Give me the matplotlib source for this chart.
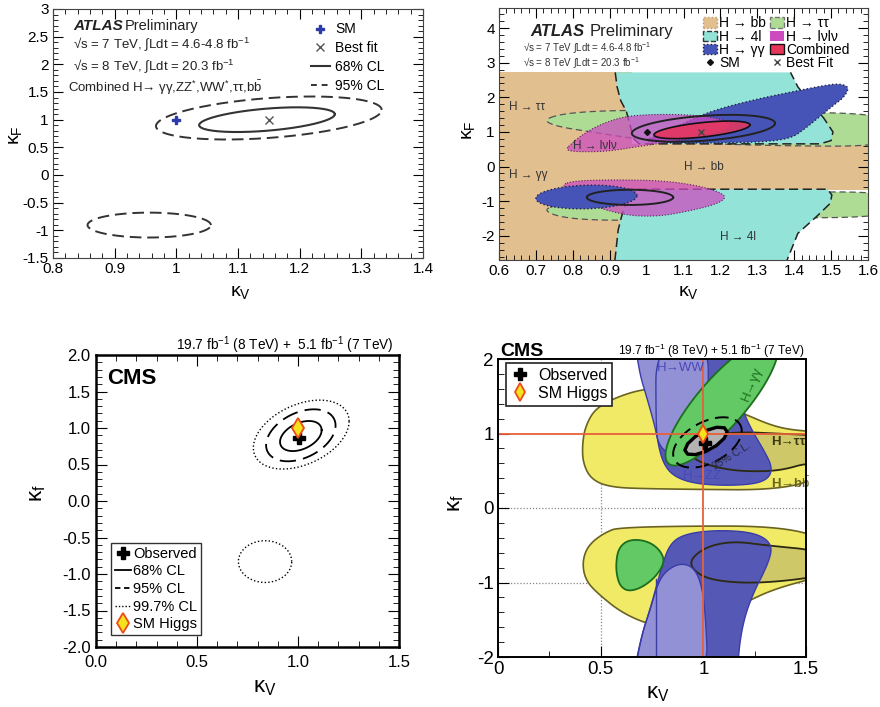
import numpy as np
import matplotlib
matplotlib.use("Agg")
import matplotlib.pyplot as plt
from matplotlib.patches import Polygon, Patch
from matplotlib.lines import Line2D
from matplotlib.ticker import MultipleLocator, FuncFormatter

plt.rcParams.update({
    'font.family': ['Liberation Sans', 'DejaVu Sans'],
    'mathtext.fontset': 'custom',
    'mathtext.rm': 'Liberation Sans',
    'mathtext.it': 'Liberation Sans:italic',
    'mathtext.bf': 'Liberation Sans:bold',
    'axes.unicode_minus': False,
})

# ---------------- DATA ----------------
# contour ellipses: (centre x, centre y, half-width, half-thickness, slope)
# Panel 1: ATLAS combined
ATLAS1_68 = (1.147, 1.0, 0.11, 0.20, 0.9)
ATLAS1_95_UP = (1.15, 1.03, 0.183, 0.36, 0.8)
ATLAS1_95_DN = (0.956, -0.905, 0.10, 0.225, 0.0)
ATLAS1_SM = (1.0, 1.0)
ATLAS1_BEST = (1.15, 1.0)

# Panel 2: ATLAS per channel
ATLAS2_BB = [(0.5, -3.0), (0.95, -3.0), (0.95, -0.67), (1.7, -0.67), (1.7, 0.655),
             (0.96, 0.655), (0.96, 2.72), (0.5, 2.72)]
ATLAS2_TT_UP = [(0.72, 1.33), (0.76, 1.5), (0.85, 1.6), (1.0, 1.63), (1.3, 1.6), (1.7, 1.5),
                (1.7, 0.58), (1.3, 0.6), (1.0, 0.75), (0.85, 1.0), (0.76, 1.15)]
ATLAS2_TT_DN = [(0.72, -1.25), (0.76, -1.1), (0.85, -1.02), (1.0, -0.9), (1.3, -0.75), (1.7, -0.72),
                (1.7, -1.45), (1.3, -1.5), (1.0, -1.55), (0.85, -1.55), (0.76, -1.45)]
ATLAS2_4L_UP = [(0.915, 2.72), (0.92, 2.3), (0.93, 1.9), (0.945, 1.6), (0.955, 1.2), (0.965, 0.8),
                (0.98, 0.655), (1.47, 0.655), (1.5, 0.75), (1.505, 1.0), (1.48, 1.4), (1.44, 1.9),
                (1.41, 2.3), (1.39, 2.72)]
ATLAS2_4L_DN = [(0.914, -2.72), (0.923, -1.83), (0.932, -1.45), (0.946, -0.96), (0.95, -0.655),
                (1.49, -0.655), (1.502, -0.82), (1.498, -1.06), (1.46, -1.45), (1.41, -1.93),
                (1.38, -2.72)]
ATLAS2_GG_UP = [(0.99, 0.74), (1.03, 0.9), (1.08, 1.15), (1.14, 1.45), (1.2, 1.68), (1.3, 1.95),
                (1.4, 2.17), (1.47, 2.32), (1.52, 2.4), (1.55, 2.3), (1.535, 2.0), (1.51, 1.8),
                (1.47, 1.45), (1.43, 1.1), (1.39, 0.8), (1.3, 0.7), (1.15, 0.68), (1.04, 0.68)]
ATLAS2_GG_DN = (0.837, -0.88, 0.137, 0.34, 0.3)
ATLAS2_WW_UP = [(0.778, 0.47), (0.80, 0.7), (0.83, 0.95), (0.875, 1.22), (0.936, 1.44), (1.0, 1.5),
                (1.07, 1.51), (1.15, 1.47), (1.21, 1.35), (1.235, 1.18), (1.2, 1.0), (1.12, 0.8),
                (1.0, 0.62), (0.9, 0.44), (0.82, 0.42)]
ATLAS2_WW_DN = [(0.77, -0.53), (0.8, -0.42), (0.88, -0.385), (1.0, -0.39), (1.08, -0.45),
                (1.16, -0.6), (1.21, -0.8), (1.212, -0.95), (1.18, -1.12), (1.1, -1.32),
                (1.03, -1.44), (0.95, -1.42), (0.87, -1.2), (0.82, -0.95), (0.79, -0.7)]
ATLAS2_COMB68 = (1.15, 1.06, 0.13, 0.21, 1.1)
ATLAS2_COMB95_UP = (1.154, 1.105, 0.194, 0.36, 0.75)
ATLAS2_COMB95_DN = (0.955, -0.89, 0.117, 0.22, 0.0)
ATLAS2_SM = (1.0, 1.0)
ATLAS2_BEST = (1.147, 1.0)

# Panel 3: CMS combined
CMS1_68 = (1.014, 0.89, 0.103, 0.19, 0.78)
CMS1_95 = (1.014, 0.90, 0.172, 0.33, 0.78)
CMS1_997_UP = (1.016, 0.91, 0.237, 0.435, 0.77)
CMS1_997_DN = (0.837, -0.83, 0.132, 0.286, 0.0)
CMS1_OBS = (1.007, 0.866)
CMS1_SM = (1.0, 1.0)

# Panel 4: CMS per channel
CMS2_BB_UP = [(1.6, 0.237), (0.69, 0.255), (0.528, 0.29), (0.45, 0.4), (0.415, 0.6), (0.41, 0.83),
              (0.425, 1.1), (0.48, 1.36), (0.626, 1.54), (0.75, 1.61), (0.837, 1.62), (1.0, 1.5),
              (1.21, 1.25), (1.34, 1.1), (1.45, 1.04), (1.6, 1.02)]
CMS2_BB_DN = [(1.6, -0.24), (0.6, -0.245), (0.513, -0.34), (0.44, -0.5), (0.412, -0.7),
              (0.42, -0.92), (0.464, -1.10), (0.627, -1.46), (0.838, -1.64), (1.0, -1.55),
              (1.195, -1.28), (1.35, -1.08), (1.6, -0.9)]
CMS2_TT_UP = [(0.94, 0.73), (0.98, 0.9), (1.05, 0.99), (1.2, 1.02), (1.35, 1.0), (1.6, 0.97),
              (1.6, 0.58), (1.5, 0.6), (1.4, 0.52), (1.3, 0.49), (1.15, 0.5), (1.03, 0.57),
              (0.96, 0.65)]
CMS2_TT_DN = [(0.932, -0.74), (0.97, -0.6), (1.05, -0.49), (1.163, -0.45), (1.3, -0.5),
              (1.6, -0.58), (1.6, -0.9), (1.4, -0.98), (1.21, -1.01), (1.05, -0.97),
              (0.97, -0.88)]
CMS2_ZZ_UP = [(0.769, 2.3), (0.769, 1.1), (0.78, 0.85), (0.805, 0.6), (0.853, 0.43), (0.95, 0.33),
              (1.1, 0.3), (1.25, 0.32), (1.32, 0.4), (1.335, 0.55), (1.3, 0.75), (1.235, 1.05),
              (1.19, 1.32), (1.17, 1.7), (1.162, 2.3)]
CMS2_ZZ_DN = [(0.655, -2.3), (0.70, -1.7), (0.74, -1.37), (0.797, -0.79), (0.838, -0.47),
              (0.919, -0.34), (1.08, -0.295), (1.25, -0.33), (1.333, -0.47), (1.325, -0.70),
              (1.227, -1.23), (1.18, -1.7), (1.163, -2.3)]
CMS2_WW_UP = [(0.663, 2.3), (0.69, 1.8), (0.723, 1.5), (0.764, 1.1), (0.78, 0.87), (0.82, 0.74),
              (0.886, 0.69), (0.95, 0.72), (1.0, 0.85), (1.02, 1.1), (1.024, 1.4), (1.024, 2.3)]
CMS2_WW_DN = [(0.659, -2.3), (0.70, -1.7), (0.74, -1.37), (0.78, -1.0), (0.82, -0.84),
              (0.886, -0.74), (0.951, -0.79), (0.99, -1.01), (1.01, -1.4), (1.024, -2.3)]
CMS2_GG_UP = (1.09, 1.42, 0.85, 0.15, 0.27)   # vertical ellipse: cx, cy, half-length, half-width, dx/dy
CMS2_GG_DN = [(0.575, -0.74), (0.585, -0.56), (0.62, -0.45), (0.675, -0.42), (0.74, -0.46),
              (0.79, -0.57), (0.813, -0.72), (0.77, -0.92), (0.70, -1.07), (0.635, -1.12),
              (0.595, -1.05), (0.578, -0.9)]
CMS2_68 = (1.013, 0.90, 0.103, 0.14, 1.2)
CMS2_95 = (1.02, 0.88, 0.167, 0.30, 0.93)
CMS2_OBS = (1.008, 0.87)
CMS2_SM = (1.0, 1.0)


# ---------------- helpers ----------------
def ell(p, n=240):
    cx, cy, a, b, s = p
    t = np.linspace(0, 2 * np.pi, n)
    return cx + a * np.cos(t), cy + s * a * np.cos(t) + b * np.sin(t)


def vell(p, n=240):
    cx, cy, a, b, s = p
    t = np.linspace(0, 2 * np.pi, n)
    return cx + s * a * np.cos(t) + b * np.sin(t), cy + a * np.cos(t)


def smooth(pts, it=4):
    P = np.asarray(pts, float)
    for _ in range(it):
        Q = np.roll(P, -1, axis=0)
        A = 0.75 * P + 0.25 * Q
        B = 0.25 * P + 0.75 * Q
        P = np.empty((2 * len(A), 2))
        P[0::2] = A
        P[1::2] = B
    return P


def fmt_g(v, pos):
    s = ('%.2f' % v).rstrip('0').rstrip('.')
    return '0' if s in ('-0', '') else s


def fill_xy(ax, xy, **kw):
    ax.add_patch(Polygon(np.asarray(xy), closed=True, **kw))


def style_ticks(ax, size, major, minor, top=True, right=True, pad=3):
    ax.tick_params(which='both', direction='in', top=top, right=right, labelsize=size, pad=pad)
    ax.tick_params(which='major', length=major)
    ax.tick_params(which='minor', length=minor)


fig = plt.figure(figsize=(8.8, 7.07), dpi=100)
W, H = 880.0, 707.0


def axes_px(x0, y0, x1, y1):
    return fig.add_axes([x0 / W, 1 - y1 / H, (x1 - x0) / W, (y1 - y0) / H])


def ftext(px, py, s, **kw):
    fig.text(px / W, 1 - py / H, s, **kw)


KV = 'κ$_\\mathrm{V}$'

# =============== Panel 1 ===============
ax1 = axes_px(53, 9, 423, 258)
ax1.set_xlim(0.8, 1.4)
ax1.set_ylim(-1.5, 3)
for p in (ATLAS1_95_UP, ATLAS1_95_DN):
    x, y = ell(p)
    ax1.plot(x, y, color='#333333', lw=1.4, ls=(0, (6, 3)))
x, y = ell(ATLAS1_68)
ax1.plot(x, y, color='#333333', lw=1.5)
ax1.plot(*ATLAS1_SM, marker='P', color='#2a3aa8', ms=6, ls='none')
ax1.plot(*ATLAS1_BEST, marker='x', color='#555555', ms=6, ls='none', mew=1)
ax1.xaxis.set_major_locator(MultipleLocator(0.1))
ax1.xaxis.set_minor_locator(MultipleLocator(0.02))
ax1.yaxis.set_major_locator(MultipleLocator(0.5))
ax1.yaxis.set_minor_locator(MultipleLocator(0.1))
ax1.xaxis.set_major_formatter(FuncFormatter(fmt_g))
ax1.yaxis.set_major_formatter(FuncFormatter(fmt_g))
style_ticks(ax1, 11, 7, 3.5)
for sp in ax1.spines.values():
    sp.set_color('#444444')
ax1.text(0.054, 0.93, 'ATLAS', transform=ax1.transAxes, fontsize=11, fontweight='bold',
         fontstyle='italic', va='center', color='#222')
ax1.text(0.195, 0.93, 'Preliminary', transform=ax1.transAxes, fontsize=10.5, va='center', color='#222')
ax1.text(0.054, 0.86, '√s = 7 TeV, ∫Ldt = 4.6-4.8 fb$^{-1}$', transform=ax1.transAxes,
         fontsize=9.5, va='center', color='#222')
ax1.text(0.054, 0.771, '√s = 8 TeV, ∫Ldt = 20.3 fb$^{-1}$', transform=ax1.transAxes,
         fontsize=9.5, va='center', color='#222')
ax1.text(0.04, 0.683, 'Combined H→ γγ,ZZ$^{*}$,WW$^{*}$,ττ,b$\\bar{\\mathrm{b}}$',
         transform=ax1.transAxes, fontsize=9.5, va='center', color='#222')
h1 = [Line2D([], [], marker='P', color='#2a3aa8', ms=6, ls='none'),
      Line2D([], [], marker='x', color='#555555', ms=6, ls='none'),
      Line2D([], [], color='#333333', lw=1.5),
      Line2D([], [], color='#333333', lw=1.4, ls=(0, (3, 2.5)))]
ax1.legend(h1, ['SM', 'Best fit', '68% CL', '95% CL'], loc='upper left',
           bbox_to_anchor=(0.67, 0.985), frameon=False, fontsize=10, labelspacing=0.35,
           handlelength=1.4, handletextpad=0.35, borderpad=0.2)
ftext(240, 292, KV, fontsize=14, ha='center', va='center')
ftext(15, 135, 'κ$_\\mathrm{F}$', fontsize=14, ha='center', va='center', rotation=90)

# =============== Panel 2 ===============
ax2 = axes_px(499, 8, 868, 260)
ax2.set_xlim(0.6, 1.6)
ax2.set_ylim(-2.7, 4.58)
C_BB, C_4L, C_TT = '#e2bf8e', '#93e3d8', '#aedc94'
C_GG, C_WW, C_CB = '#4654b8', '#cc4cc0', '#e8365a'
fill_xy(ax2, ATLAS2_BB, fc=C_BB, ec='none', zorder=1)
for poly in (ATLAS2_TT_UP, ATLAS2_TT_DN):
    fill_xy(ax2, smooth(poly), fc=C_TT, ec='#555555', lw=0.9, ls=(0, (5, 3)), zorder=2)
for poly in (ATLAS2_4L_UP, ATLAS2_4L_DN):
    fill_xy(ax2, poly, fc=C_4L, ec='none', zorder=3)
    arr = np.asarray(poly)
    ax2.plot(arr[:, 0], arr[:, 1], color='#222222', lw=1.1, ls=(0, (6, 3)), zorder=3.1)
fill_xy(ax2, smooth(ATLAS2_GG_UP, 3), fc=C_GG, ec='#222244', lw=1.0, ls=':', zorder=4)
for poly in (ATLAS2_WW_UP, ATLAS2_WW_DN):
    sp = smooth(poly)
    fill_xy(ax2, sp, fc=C_WW, alpha=0.75, ec='none', zorder=5)
    ax2.plot(np.r_[sp[:, 0], sp[0, 0]], np.r_[sp[:, 1], sp[0, 1]], color='#552255', lw=0.8,
             ls=':', zorder=5.1)
x, y = ell(ATLAS2_GG_DN)
ax2.fill(x, y, fc=C_GG, ec='#222244', lw=1.0, ls=':', zorder=6)
x, y = ell(ATLAS2_COMB68)
ax2.fill(x, y, fc=C_CB, alpha=0.85, ec='none', zorder=7)
ax2.plot(x, y, color='#111111', lw=1.2, zorder=7.1)
for p in (ATLAS2_COMB95_UP, ATLAS2_COMB95_DN):
    x, y = ell(p)
    ax2.plot(x, y, color='#222222', lw=1.4, zorder=8)
ax2.plot(*ATLAS2_SM, marker='D', color='#111111', ms=3, ls='none', zorder=9)
ax2.plot(*ATLAS2_BEST, marker='x', color='#444444', ms=5, ls='none', zorder=9)
lab_kw = dict(fontsize=8.5, color='#333333', va='center', zorder=10)
ax2.text(0.628, 1.73, 'H → ττ', **lab_kw)
ax2.text(0.80, 0.58, 'H → lνlν', **lab_kw)
ax2.text(1.10, 0.0, 'H → bb', **lab_kw)
ax2.text(0.628, -0.24, 'H → γγ', **lab_kw)
ax2.text(1.20, -2.04, 'H → 4l', **lab_kw)
ax2.xaxis.set_major_locator(MultipleLocator(0.1))
ax2.xaxis.set_minor_locator(MultipleLocator(0.02))
ax2.yaxis.set_major_locator(MultipleLocator(1))
ax2.yaxis.set_minor_locator(MultipleLocator(0.2))
ax2.xaxis.set_major_formatter(FuncFormatter(fmt_g))
ax2.yaxis.set_major_formatter(FuncFormatter(fmt_g))
style_ticks(ax2, 11, 7, 3.5)
for sp_ in ax2.spines.values():
    sp_.set_color('#444444')
    sp_.set_zorder(12)
ax2.text(0.084, 0.905, 'ATLAS', transform=ax2.transAxes, fontsize=12, fontweight='bold',
         fontstyle='italic', va='center', color='#222', zorder=10)
ax2.text(0.245, 0.905, 'Preliminary', transform=ax2.transAxes, fontsize=12, va='center',
         color='#222', zorder=10)
ax2.text(0.065, 0.84, '√s = 7 TeV ∫Ldt = 4.6-4.8 fb$^{-1}$', transform=ax2.transAxes,
         fontsize=7, va='center', color='#333', zorder=10)
ax2.text(0.065, 0.78, '√s = 8 TeV ∫Ldt = 20.3 fb$^{-1}$', transform=ax2.transAxes,
         fontsize=7, va='center', color='#333', zorder=10)
h2 = [Patch(fc=C_BB, ec='#c09a68', ls=':'),
      Patch(fc=C_4L, ec='#333333', ls='--'),
      Patch(fc=C_GG, ec='#222222', ls=':'),
      Line2D([], [], marker='D', color='#111111', ms=3, ls='none'),
      Patch(fc=C_TT, ec='#777777', ls='--'),
      Patch(fc=C_WW, ec='none'),
      Patch(fc=C_CB, ec='#111111'),
      Line2D([], [], marker='x', color='#444444', ms=5, ls='none')]
l2 = ax2.legend(h2, ['H → bb', 'H → 4l', 'H → γγ', 'SM', 'H → ττ', 'H → lνlν', 'Combined', 'Best Fit'],
                ncol=2, loc='upper left', bbox_to_anchor=(0.53, 1.0), frameon=False,
                fontsize=10, labelspacing=-0.05, handlelength=1.0, handleheight=0.75,
                handletextpad=0.15, columnspacing=0.3, borderpad=0.1)
l2.set_zorder(11)
ftext(688, 292, KV, fontsize=14, ha='center', va='center')
ftext(468, 130, 'κ$_\\mathrm{F}$', fontsize=14, ha='center', va='center', rotation=90)

# =============== Panel 3 ===============
ax3 = axes_px(96, 355, 399, 647)
ax3.set_xlim(0, 1.5)
ax3.set_ylim(-2, 2)
x, y = ell(CMS1_68)
ax3.plot(x, y, color='black', lw=1.3)
x, y = ell(CMS1_95)
ax3.plot(x, y, color='black', lw=1.3, ls=(0, (9, 4)))
for p in (CMS1_997_UP, CMS1_997_DN):
    x, y = ell(p)
    ax3.plot(x, y, color='black', lw=1.0, ls=(0, (1, 1.6)))
ax3.plot(*CMS1_OBS, marker='P', color='black', ms=9, ls='none', zorder=5)
ax3.plot(*CMS1_SM, marker='d', mfc='#f4e21e', mec='#ee4a18', mew=1.3, ms=10, ls='none', zorder=6)
ax3.xaxis.set_major_locator(MultipleLocator(0.5))
ax3.xaxis.set_minor_locator(MultipleLocator(0.1))
ax3.yaxis.set_major_locator(MultipleLocator(0.5))
ax3.yaxis.set_minor_locator(MultipleLocator(0.1))
ax3.xaxis.set_major_formatter(FuncFormatter(lambda v, p: '%.1f' % v))
ax3.yaxis.set_major_formatter(FuncFormatter(lambda v, p: '%.1f' % v))
style_ticks(ax3, 12, 8, 4, pad=4)
ax3.tick_params(axis='x', pad=6)
for sp_ in ax3.spines.values():
    sp_.set_linewidth(1.8)
ax3.text(0.037, 0.92, 'CMS', transform=ax3.transAxes, fontsize=16, fontweight='bold', va='center')
ax3.text(0.983, 1.032, '19.7 fb$^{-1}$ (8 TeV) +  5.1 fb$^{-1}$ (7 TeV)', transform=ax3.transAxes,
         fontsize=9.8, ha='right', va='center')
h3 = [Line2D([], [], marker='P', color='black', ms=9, ls='none'),
      Line2D([], [], color='black', lw=1.3),
      Line2D([], [], color='black', lw=1.3, ls=(0, (3, 2))),
      Line2D([], [], color='black', lw=1.0, ls=(0, (1, 1.4))),
      Line2D([], [], marker='d', mfc='#f4e21e', mec='#ee4a18', mew=1.3, ms=10, ls='none')]
l3 = ax3.legend(h3, ['Observed', '68% CL', '95% CL', '99.7% CL', 'SM Higgs'], loc='lower left',
                bbox_to_anchor=(0.05, 0.041), fontsize=10.5, labelspacing=0.25, handlelength=1.1,
                handletextpad=0.15, borderpad=0.25, fancybox=False, framealpha=1, edgecolor='#333333',
                borderaxespad=0)
l3.get_frame().set_linewidth(1.0)
ftext(265, 687, KV, fontsize=16, ha='center', va='center')
ftext(37, 493, 'κ$_\\mathrm{f}$', fontsize=16, ha='center', va='center', rotation=90)

# =============== Panel 4 ===============
ax4 = axes_px(498, 359, 806, 657)
ax4.set_xlim(0, 1.5)
ax4.set_ylim(-2, 2)
for v in (0.5,):
    ax4.axvline(v, color='#888888', lw=0.9, ls=(0, (1, 1.5)), zorder=0)
for v in (0.0, -1.0):
    ax4.axhline(v, color='#888888', lw=0.9, ls=(0, (1, 1.5)), zorder=0)
C_Y, C_YE = '#f1ea66', '#6a6322'
C_T, C_TE = '#cfc868', '#2c2a12'
C_Z, C_ZE = '#5558b4', '#3a3ca8'
C_W = '#9391d6'
C_G, C_GE = '#62c964', '#1b6f1d'
for poly in (CMS2_BB_UP, CMS2_BB_DN):
    fill_xy(ax4, smooth(poly), fc=C_Y, ec=C_YE, lw=1.2, zorder=1)
tt_s = [smooth(p) for p in (CMS2_TT_UP, CMS2_TT_DN)]
for sp in tt_s:
    fill_xy(ax4, sp, fc=C_T, ec='none', zorder=2)
zz_s = [smooth(p) for p in (CMS2_ZZ_UP, CMS2_ZZ_DN)]
for sp in zz_s:
    fill_xy(ax4, sp, fc=C_Z, ec='none', zorder=3)
ww_s = [smooth(p) for p in (CMS2_WW_UP, CMS2_WW_DN)]
for sp in ww_s:
    fill_xy(ax4, sp, fc=C_W, ec='none', zorder=4)
for sp in tt_s:
    fill_xy(ax4, sp, fc='none', ec=C_TE, lw=1.3, zorder=4.5)
for sp in zz_s + ww_s:
    fill_xy(ax4, sp, fc='none', ec=C_ZE, lw=1.0, zorder=4.6)
ax4.plot([0.77, 0.77], [-2.05, -0.95], color=C_ZE, lw=1.0, zorder=4.6)
x, y = vell(CMS2_GG_UP)
ax4.fill(x, y, fc=C_G, ec=C_GE, lw=1.3, zorder=5)
fill_xy(ax4, smooth(CMS2_GG_DN), fc=C_G, ec=C_GE, lw=1.3, zorder=5)
x, y = ell(CMS2_68, n=13)
ax4.fill(x, y, fc='#b3b3b3', ec='black', lw=2.4, zorder=6, joinstyle='round')
x, y = ell(CMS2_95)
ax4.plot(x, y, color='black', lw=1.4, ls=(0, (7, 3.5)), zorder=6)
ax4.axhline(1.0, color='#e8603a', lw=1.3, zorder=7)
ax4.axvline(1.0, color='#e8603a', lw=1.3, zorder=7)
ax4.plot(*CMS2_OBS, marker='P', color='black', ms=8, ls='none', zorder=8)
ax4.plot(*CMS2_SM, marker='d', mfc='#f4e21e', mec='#ee4a18', mew=1.3, ms=9, ls='none', zorder=9)
ax4.text(0.89, 1.88, 'H→WW', fontsize=9.5, color='#4848b8', ha='center', va='center', zorder=9)
ax4.text(1.235, 1.66, 'H→γγ', fontsize=9.5, color='#1b6f1d', ha='center', va='center',
         rotation=68, zorder=9)
ax4.text(0.995, 0.43, 'H→ZZ', fontsize=9.5, color='#4848b8', ha='center', va='center', zorder=9)
ax4.text(1.138, 0.69, '95% C.L.', fontsize=7.5, color='#2a2a44', ha='center', va='center',
         rotation=32, zorder=9)
ax4.text(1.33, 0.886, 'H→ττ', fontsize=9.5, color='#3a3814', fontweight='bold', va='center', zorder=9)
ax4.text(1.33, 0.335, 'H→b$\\bar{\\mathrm{b}}$', fontsize=9.5, color='#6a6322', fontweight='bold',
         va='center', zorder=9)
ax4.xaxis.set_major_locator(MultipleLocator(0.5))
ax4.xaxis.set_minor_locator(MultipleLocator(0.25))
ax4.yaxis.set_major_locator(MultipleLocator(1))
ax4.yaxis.set_minor_locator(MultipleLocator(0.2))
ax4.xaxis.set_major_formatter(FuncFormatter(lambda v, p: '%g' % v))
ax4.yaxis.set_major_formatter(FuncFormatter(lambda v, p: '%g' % v))
style_ticks(ax4, 13.5, 8, 4, top=False, right=False)
for sp_ in ax4.spines.values():
    sp_.set_linewidth(1.4)
    sp_.set_zorder(12)
ax4.text(0.006, 1.024, 'CMS', transform=ax4.transAxes, fontsize=14, fontweight='bold', va='center')
ax4.text(0.994, 1.028, '19.7 fb$^{-1}$ (8 TeV) + 5.1 fb$^{-1}$ (7 TeV)', transform=ax4.transAxes,
         fontsize=8.6, ha='right', va='center')
h4 = [Line2D([], [], marker='P', color='black', ms=8, ls='none'),
      Line2D([], [], marker='d', mfc='#f4e21e', mec='#ee4a18', mew=1.3, ms=9, ls='none')]
l4 = ax4.legend(h4, ['Observed', 'SM Higgs'], loc='upper left', bbox_to_anchor=(0.026, 0.987),
                fontsize=11.5, labelspacing=0.2, handlelength=1.2, handletextpad=0.5,
                borderpad=0.3, fancybox=False, framealpha=1, edgecolor='#222222', borderaxespad=0)
l4.get_frame().set_linewidth(1.2)
l4.set_zorder(11)
ftext(658, 693, KV, fontsize=16, ha='center', va='center')
ftext(455, 503, 'κ$_\\mathrm{f}$', fontsize=16, ha='center', va='center', rotation=90)

fig.savefig('out.png', dpi=100)
